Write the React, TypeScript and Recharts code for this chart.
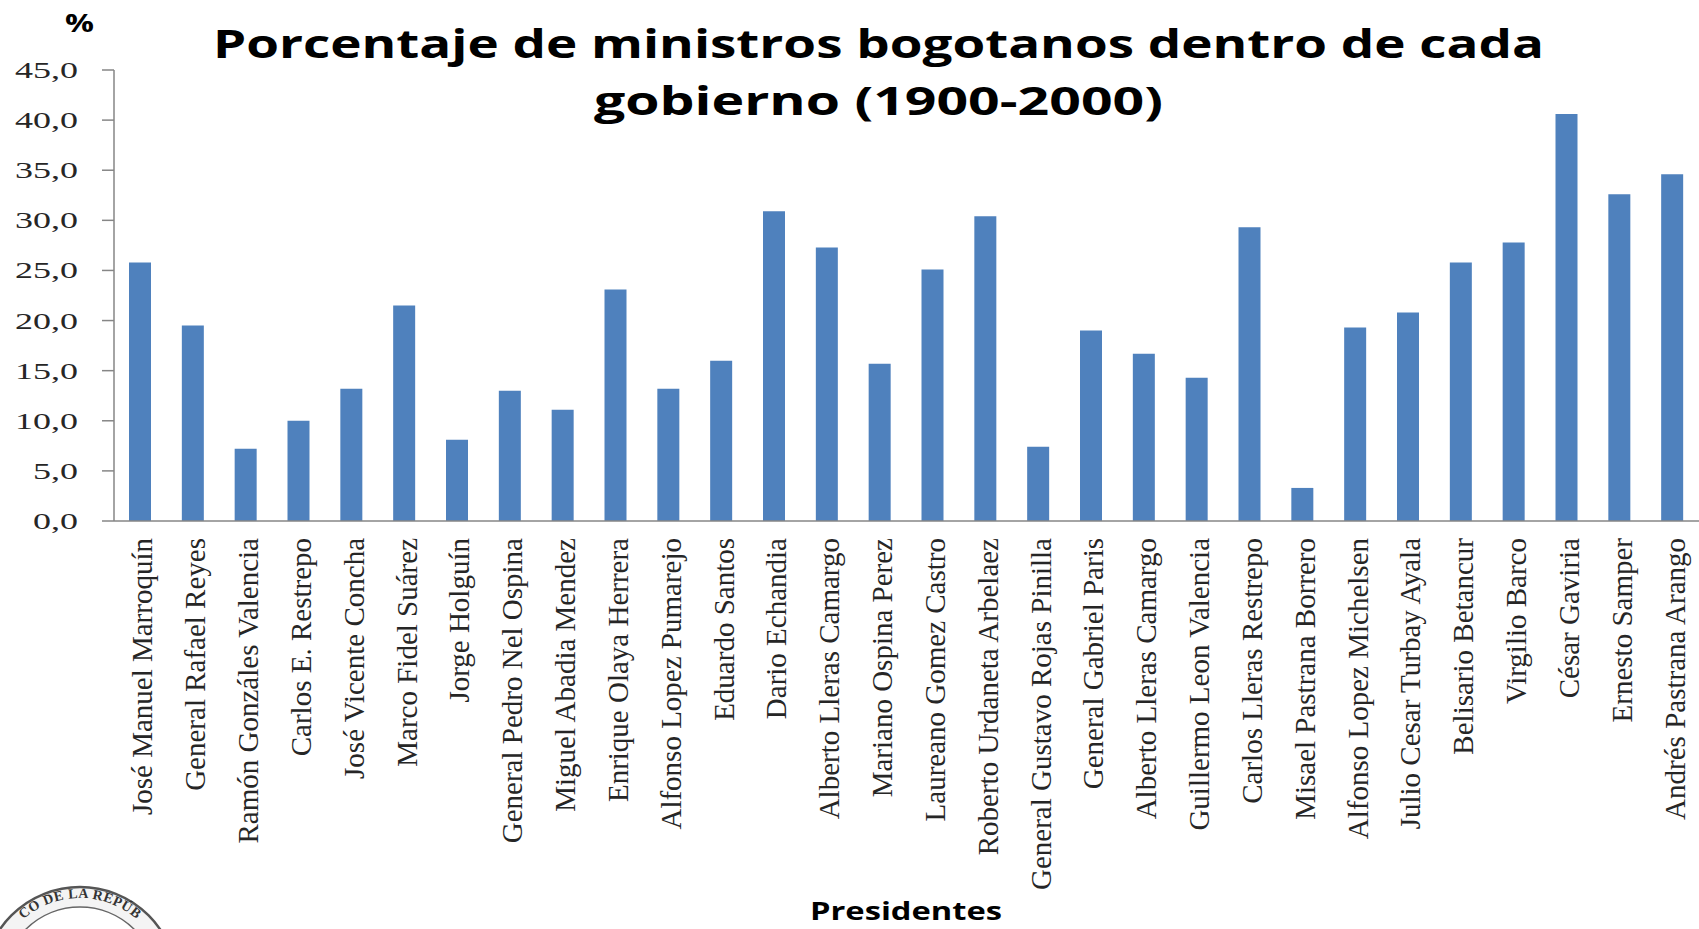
import { BarChart, Bar, XAxis, YAxis } from 'recharts';

// Presidentes de Colombia (1900-2000), en orden cronológico
const presidentes = [
  'José Manuel Marroquín',
  'General Rafael Reyes',
  'Ramón Gonzáles Valencia',
  'Carlos E. Restrepo',
  'José Vicente Concha',
  'Marco Fidel Suárez',
  'Jorge Holguín',
  'General Pedro Nel Ospina',
  'Miguel Abadia Mendez',
  'Enrique Olaya Herrera',
  'Alfonso Lopez Pumarejo',
  'Eduardo Santos',
  'Dario Echandia',
  'Alberto Lleras Camargo',
  'Mariano Ospina Perez',
  'Laureano Gomez Castro',
  'Roberto Urdaneta Arbelaez',
  'General Gustavo Rojas Pinilla',
  'General Gabriel Paris',
  'Alberto Lleras Camargo',
  'Guillermo Leon Valencia',
  'Carlos Lleras Restrepo',
  'Misael Pastrana Borrero',
  'Alfonso Lopez Michelsen',
  'Julio Cesar Turbay Ayala',
  'Belisario Betancur',
  'Virgilio Barco',
  'César Gaviria',
  'Ernesto Samper',
  'Andrés Pastrana Arango',
];

// % de ministros bogotanos
const porcentajes = [
  25.8, 19.5, 7.2, 10.0, 13.2, 21.5, 8.1, 13.0, 11.1, 23.1,
  13.2, 16.0, 30.9, 27.3, 15.7, 25.1, 30.4, 7.4, 19.0, 16.7,
  14.3, 29.3, 3.3, 19.3, 20.8, 25.8, 27.8, 40.6, 32.6, 34.6,
];

const yTicks = [0, 5, 10, 15, 20, 25, 30, 35, 40, 45];

const data = presidentes.map((name, i) => ({ name, valor: porcentajes[i] }));

const AXIS_COLOR = '#868686';
const TEXT_COLOR = '#262626';

// Y tick: serif, stretched wide like the source image
const YTick = ({ x, y, payload }: any) => (
  <text
    transform={`translate(${x - 22},${y + 8}) scale(1.5,1)`}
    textAnchor="end"
    fontFamily="'Liberation Serif', serif"
    fontSize={24}
    fill={TEXT_COLOR}
  >
    {payload.value.toFixed(1).replace('.', ',')}
  </text>
);

// X tick: rotated president names hanging under the axis
const XTick = ({ x, y, payload }: any) => (
  <g transform={`translate(${x + 12},${y + 17})`}>
    <text
      transform="rotate(-90)"
      textAnchor="end"
      fontFamily="'Liberation Serif', serif"
      fontSize={29}
      fill={TEXT_COLOR}
    >
      {payload.value}
    </text>
  </g>
);

export default function App() {
  return (
    <div style={{ position: 'absolute', left: 0, top: 0, width: 1699, height: 929, background: '#fff' }}>
      <BarChart
        width={1699}
        height={929}
        data={data}
        margin={{ top: 70, right: 0, bottom: 0, left: 0 }}
        barSize={22}
      >
        <YAxis
          width={114}
          domain={[0, 45]}
          ticks={yTicks}
          interval={0}
          tickSize={12}
          stroke={AXIS_COLOR}
          axisLine={{ stroke: AXIS_COLOR, strokeWidth: 1.5 }}
          tickLine={{ stroke: AXIS_COLOR, strokeWidth: 1.5 }}
          tick={<YTick />}
        />
        <XAxis
          dataKey="name"
          height={408}
          interval={0}
          tickSize={0}
          tickMargin={0}
          tickLine={false}
          axisLine={{ stroke: AXIS_COLOR, strokeWidth: 1.5 }}
          tick={<XTick />}
        />
        <Bar dataKey="valor" fill="#4F81BD" isAnimationActive={false} />
      </BarChart>

      {/* titles and decorations drawn over the chart */}
      <svg
        width={1699}
        height={929}
        style={{ position: 'absolute', left: 0, top: 0, pointerEvents: 'none' }}
      >
        <text x={65} y={32} fontFamily="'Open Sans', sans-serif" fontWeight={700} fontSize={25} textLength={29} lengthAdjust="spacingAndGlyphs" fill="#000">
          %
        </text>
        <text x={213} y={58} fontFamily="'Open Sans', sans-serif" fontWeight={700} fontSize={39} textLength={1331} lengthAdjust="spacingAndGlyphs" fill="#000">
          Porcentaje de ministros bogotanos dentro de cada
        </text>
        <text x={594} y={115} fontFamily="'Open Sans', sans-serif" fontWeight={700} fontSize={39} textLength={569} lengthAdjust="spacingAndGlyphs" fill="#000">
          gobierno (1900-2000)
        </text>
        <text x={810} y={920} fontFamily="'Open Sans', sans-serif" fontWeight={700} fontSize={25} textLength={192} lengthAdjust="spacingAndGlyphs" fill="#000">
          Presidentes
        </text>

        {/* seal of Banco de la República, cut by the bottom edge */}
        <defs>
          <path id="sealArc" d="M -6 984 A 86 86 0 0 1 166 984" />
        </defs>
        <circle cx={80} cy={984} r={97} fill="#f4f4f4" stroke="#555" strokeWidth={2.5} />
        <circle cx={80} cy={984} r={77} fill="#fff" stroke="#666" strokeWidth={1.5} />
        <text fontFamily="'Liberation Serif', serif" fontWeight={700} fontSize={14} fill="#333" letterSpacing={0.5}>
          <textPath href="#sealArc" startOffset="50%" textAnchor="middle">
            CO DE LA REPÚB
          </textPath>
        </text>
        <ellipse cx={70} cy={958} rx={30} ry={22} fill="#8a8a8a" opacity={0.7} />
      </svg>
    </div>
  );
}
